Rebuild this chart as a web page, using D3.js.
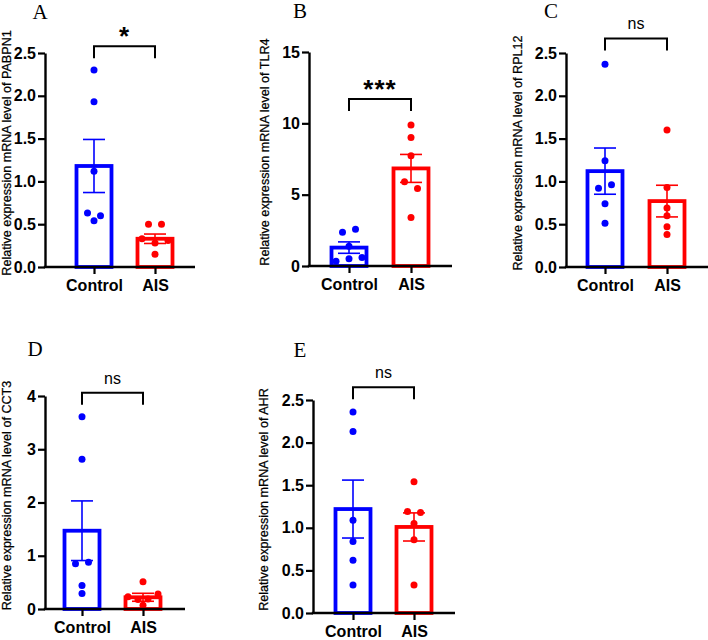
<!DOCTYPE html>
<html>
<head>
<meta charset="utf-8">
<script src="https://cdn.jsdelivr.net/npm/d3@7"></script>
<style>
	body { margin: 0; background: #fff; }
	svg { display: block; }
</style>
</head>
<body>
<script>
// groups on the x axis
var groups = ["Control", "AIS"];

// one panel per gene
var panelLetters = ["A", "B", "C", "D", "E"];
var genes = ["PABPN1", "TLR4", "RPL12", "CCT3", "AHR"];

// y axis max and tick step
var yMax = [2.5, 15, 2.5, 4, 2.5];
var yStep = [0.5, 5, 0.5, 1, 0.5];

// single samples
var controlValues = [
	[2.30, 1.93, 1.12, 0.63, 0.60, 0.54],
	[2.37, 2.58, 1.38, 0.33, 0.50, 0.59],
	[2.37, 1.24, 0.92, 0.96, 0.74, 0.51],
	[3.61, 2.81, 0.85, 0.88, 0.44, 0.29],
	[2.36, 2.13, 1.09, 0.84, 0.62, 0.33]
];
var aisValues = [
	[0.50, 0.50, 0.33, 0.28, 0.31, 0.15],
	[9.89, 9.00, 7.73, 5.90, 5.44, 3.40],
	[1.60, 0.93, 0.69, 0.60, 0.47, 0.38],
	[0.51, 0.23, 0.18, 0.19, 0.28, 0.07],
	[1.54, 1.19, 1.18, 1.05, 0.86, 0.33]
];

// bar = mean, whisker = sem
var controlMean = [1.18, 1.29, 1.12, 1.47, 1.22];
var controlSem = [0.31, 0.40, 0.27, 0.56, 0.34];
var aisMean = [0.33, 6.84, 0.77, 0.22, 1.01];
var aisSem = [0.055, 0.98, 0.185, 0.075, 0.165];

// significance marks and bracket level (data units)
var significance = ["*", "***", "ns", "ns", "ns"];
var bracketLevel = [2.58, 11.7, 2.67, 4.06, 2.65];

// where each panel sits on the page
var layout = [
	{left: 45, top: 53, bottom: 267, right: 195, cx: [94, 155], labelX: 6, titleX: 40, titleY: 19},
	{left: 309, top: 52, bottom: 266, right: 452, cx: [349, 411], labelX: 264, titleX: 300, titleY: 18},
	{left: 566, top: 53, bottom: 267, right: 712, cx: [605, 667], labelX: 517, titleX: 551, titleY: 18},
	{left: 45, top: 396, bottom: 609, right: 185, cx: [82, 143], labelX: 6, titleX: 35, titleY: 356},
	{left: 313, top: 400, bottom: 613, right: 455, cx: [353, 414], labelX: 263, titleX: 300, titleY: 357}
];

var colors = ["#0000ff", "#ff0000"];
var sans = "Arial, 'Liberation Sans', sans-serif";
var serif = "'Times New Roman', 'Liberation Serif', serif";

var svg = d3.select("body").append("svg")
	.attr("width", 708)
	.attr("height", 640);

// put close points side by side
function spread(values, y)
{
	var idx = values.map(function(v, i){ return i; })
		.sort(function(a, b){ return values[b] - values[a]; });
	var rows = [], cur = null;
	idx.forEach(function(i){
		if (cur && Math.abs(y(values[i]) - cur.start) < 7) cur.items.push(i);
		else { cur = {start: y(values[i]), items: [i]}; rows.push(cur); }
	});
	var off = [];
	rows.forEach(function(r){
		r.items.sort(function(a, b){ return a - b; });
		var n = r.items.length;
		var s = n > 1 ? Math.min(13, 30 / (n - 1)) : 0;
		r.items.forEach(function(i, k){ off[i] = (k - (n - 1) / 2) * s; });
	});
	return off;
}

panelLetters.forEach(function(letter, p){
	var L = layout[p];
	var g = svg.append("g");

	var y = d3.scaleLinear().domain([0, yMax[p]]).range([L.bottom, L.top]);
	var x = d3.scalePoint().domain(groups).range(L.cx);

	var ticks = d3.range(0, yMax[p] + yStep[p] / 2, yStep[p]);
	var fmt = yStep[p] < 1 ? d3.format(".1f") : d3.format("d");

	// panel letter
	g.append("text")
		.attr("x", L.titleX)
		.attr("y", L.titleY)
		.attr("text-anchor", "middle")
		.style("font-family", serif)
		.style("font-size", "21px")
		.text(letter);

	// y label
	g.append("text")
		.attr("transform", "translate(" + (L.labelX + 4.5) + "," + ((L.top + L.bottom) / 2 - 7) + ") rotate(-90)")
		.attr("text-anchor", "middle")
		.style("font-family", sans)
		.style("font-size", "12.6px")
		.style("stroke", "#000")
		.style("stroke-width", "0.25px")
		.text("Relative expression mRNA level of " + genes[p]);

	var means = [controlMean[p], aisMean[p]];
	var sems = [controlSem[p], aisSem[p]];
	var pts = [controlValues[p], aisValues[p]];

	// bars
	g.selectAll("rect.bar").data(groups).enter().append("rect")
		.attr("class", "bar")
		.attr("x", function(d){ return x(d) - 17.5; })
		.attr("width", 35)
		.attr("y", function(d, i){ return y(means[i]); })
		.attr("height", function(d, i){ return L.bottom - y(means[i]); })
		.attr("fill", "none")
		.attr("stroke", function(d, i){ return colors[i]; })
		.attr("stroke-width", 3.8);

	// error bars
	groups.forEach(function(grp, i){
		var cx = x(grp);
		var eb = g.append("g")
			.attr("stroke", colors[i])
			.attr("stroke-width", 1.6);
		eb.append("line")
			.attr("x1", cx).attr("x2", cx)
			.attr("y1", y(means[i] + sems[i])).attr("y2", y(means[i] - sems[i]));
		[means[i] + sems[i], means[i] - sems[i]].forEach(function(v){
			eb.append("line")
				.attr("x1", cx - 11).attr("x2", cx + 11)
				.attr("y1", y(v)).attr("y2", y(v));
		});
	});

	// dots
	groups.forEach(function(grp, i){
		var off = spread(pts[i], y);
		g.selectAll("circle.g" + i).data(pts[i]).enter().append("circle")
			.attr("class", "g" + i)
			.attr("cx", function(d, k){ return x(grp) + off[k]; })
			.attr("cy", function(d){ return y(d); })
			.attr("r", 3.5)
			.attr("fill", colors[i]);
	});

	// y axis
	var yAxis = g.append("g")
		.attr("transform", "translate(" + L.left + ",0)")
		.call(d3.axisLeft(y).tickValues(ticks).tickFormat(fmt).tickSize(7).tickSizeOuter(0).tickPadding(2));
	yAxis.select(".domain").attr("stroke-width", 2.4);
	yAxis.selectAll(".tick line").attr("stroke-width", 2.2);
	yAxis.selectAll("text")
		.style("font-family", sans)
		.style("font-size", "16px")
		.style("font-weight", "bold")
		.attr("fill", "#000");

	// x axis
	var xAxis = g.append("g")
		.attr("transform", "translate(0," + L.bottom + ")")
		.call(d3.axisBottom(x).tickSize(7).tickSizeOuter(0).tickPadding(6));
	xAxis.select(".domain").remove();
	xAxis.append("line")
		.attr("x1", L.left - 1.2).attr("x2", L.right)
		.attr("stroke", "#000")
		.attr("stroke-width", 2.4);
	xAxis.selectAll(".tick line").attr("stroke-width", 2.2);
	xAxis.selectAll("text")
		.style("font-family", sans)
		.style("font-size", "16px")
		.style("font-weight", "bold")
		.attr("fill", "#000");

	// significance bracket
	var by = y(bracketLevel[p]);
	g.append("path")
		.attr("d", "M" + L.cx[0] + "," + (by + 12) + "V" + by + "H" + L.cx[1] + "V" + (by + 12))
		.attr("fill", "none")
		.attr("stroke", "#000")
		.attr("stroke-width", 2);

	var stars = significance[p] != "ns";
	g.append("text")
		.attr("x", (L.cx[0] + L.cx[1]) / 2)
		.attr("y", stars ? by - 1 : by - 9)
		.attr("text-anchor", "middle")
		.style("font-family", sans)
		.style("font-size", stars ? "26px" : "16px")
		.style("font-weight", stars ? "bold" : "normal")
		.style("letter-spacing", stars ? "1px" : "0px")
		.text(significance[p]);
});
</script>
</body>
</html>
